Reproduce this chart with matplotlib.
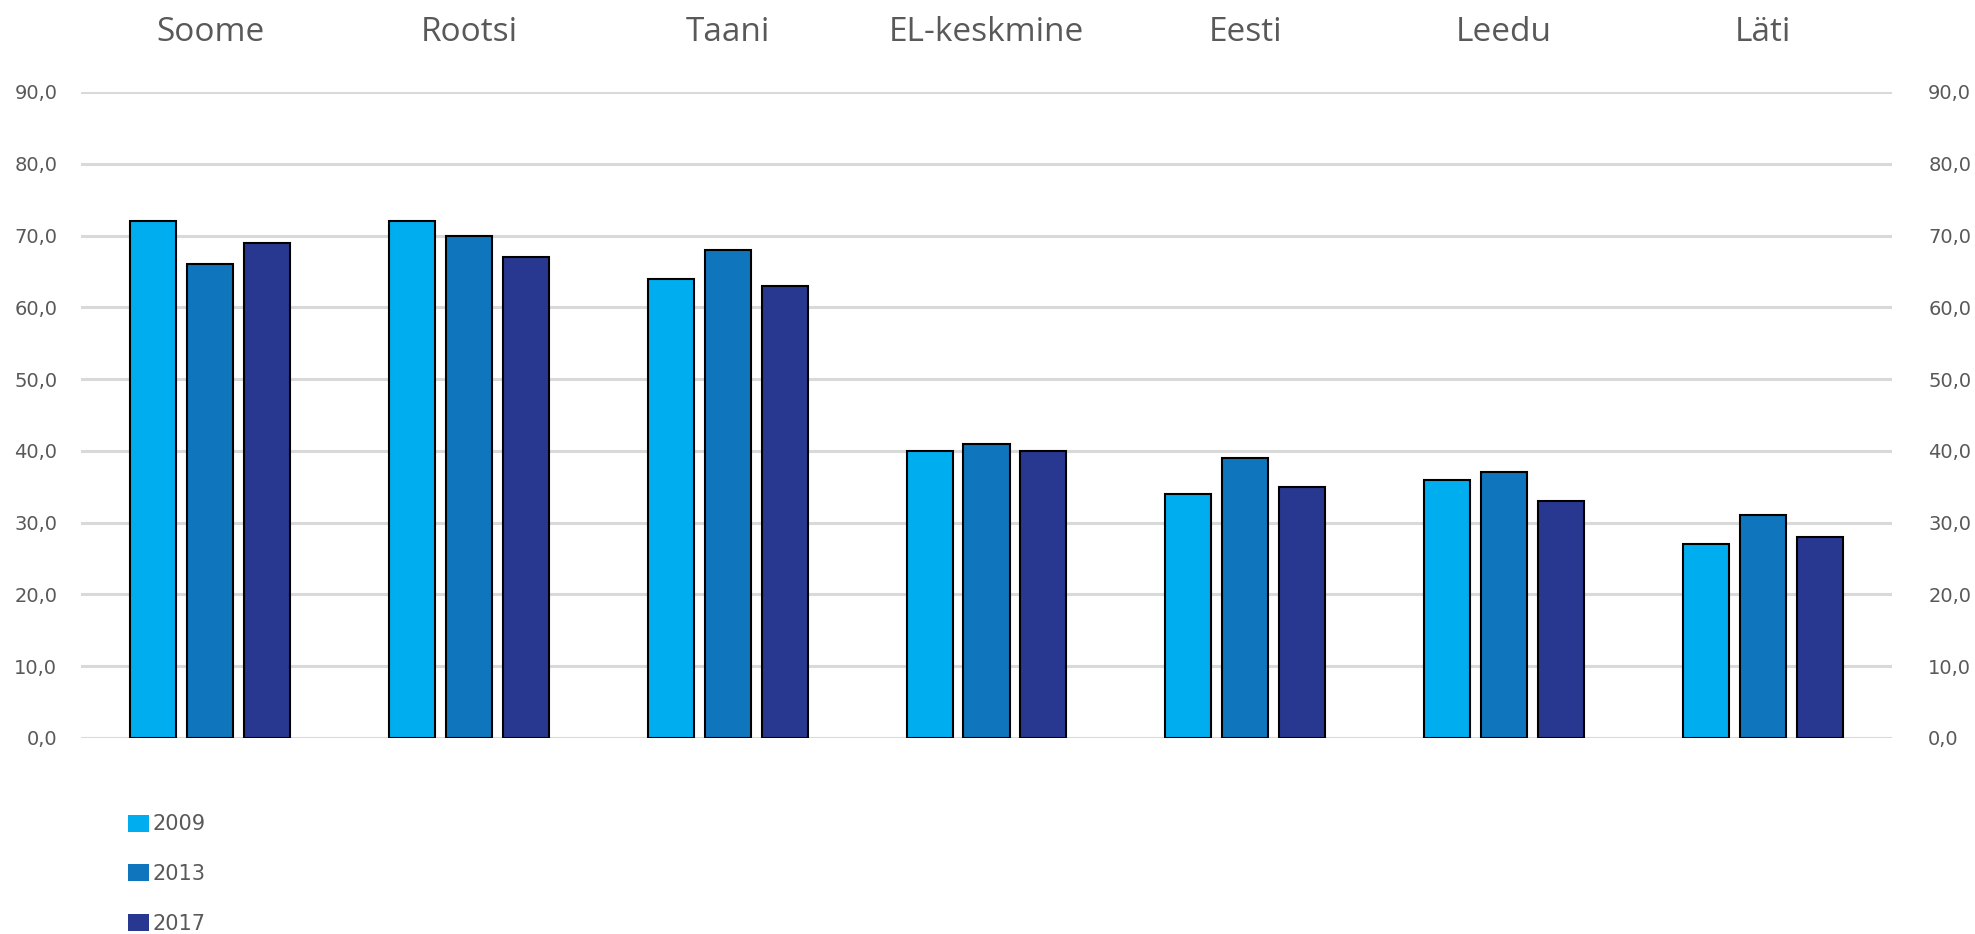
import matplotlib
matplotlib.use("Agg")
import matplotlib.pyplot as plt
import numpy as np
from matplotlib.patches import Patch

# share of population (%), by country and year
countries = ["Soome", "Rootsi", "Taani", "EL-keskmine", "Eesti", "Leedu", "Läti"]
years = ["2009", "2013", "2017"]
val_2009 = [72, 72, 64, 40, 34, 36, 27]
val_2013 = [66, 70, 68, 41, 39, 37, 31]
val_2017 = [69, 67, 63, 40, 35, 33, 28]
colors = ["#00AEEF", "#0F75BC", "#283891"]

ticks = np.arange(0, 91, 10)
tick_labels = [("%.1f" % t).replace(".", ",") for t in ticks]
grey = "#595959"

fig = plt.figure(figsize=(19.75, 9.34), dpi=100)
ax = fig.add_axes([0.041, 0.2099, 0.917, 0.6916])

x = np.arange(len(countries))
step = 0.22
width = 0.178
for i, vals in enumerate([val_2009, val_2013, val_2017]):
    ax.bar(x + (i - 1) * step, vals, width, color=colors[i],
           edgecolor="black", linewidth=1.5, zorder=3)

ax.set_xlim(-0.5, len(countries) - 0.5)
ax.set_ylim(0, 90)
ax.set_yticks(ticks)
ax.set_yticklabels(tick_labels)
ax.yaxis.grid(True, color="#D9D9D9", linewidth=2.2, zorder=0)
ax.set_axisbelow(True)
for s in ax.spines.values():
    s.set_visible(False)
ax.tick_params(axis="y", length=0, pad=17, labelsize=14, labelcolor=grey)

# country names along the top
ax.xaxis.tick_top()
ax.set_xticks(x)
ax.set_xticklabels(countries, fontfamily="Open Sans", fontsize=24, color=grey)
ax.tick_params(axis="x", length=0, pad=31)

# same scale repeated on the right
ax2 = ax.twinx()
ax2.set_ylim(ax.get_ylim())
ax2.set_yticks(ticks)
ax2.set_yticklabels(tick_labels)
for s in ax2.spines.values():
    s.set_visible(False)
ax2.tick_params(axis="y", length=0, pad=26, labelsize=14, labelcolor=grey)

handles = [Patch(facecolor=c, edgecolor="none") for c in colors]
fig.legend(handles, years, loc="upper left", bbox_to_anchor=(0.0648, 0.128),
           frameon=False, fontsize=15, labelcolor=grey,
           handlelength=1.0, handleheight=0.87, handletextpad=0.2,
           labelspacing=1.42, borderpad=0, borderaxespad=0)

fig.savefig("out.png", dpi=100)
